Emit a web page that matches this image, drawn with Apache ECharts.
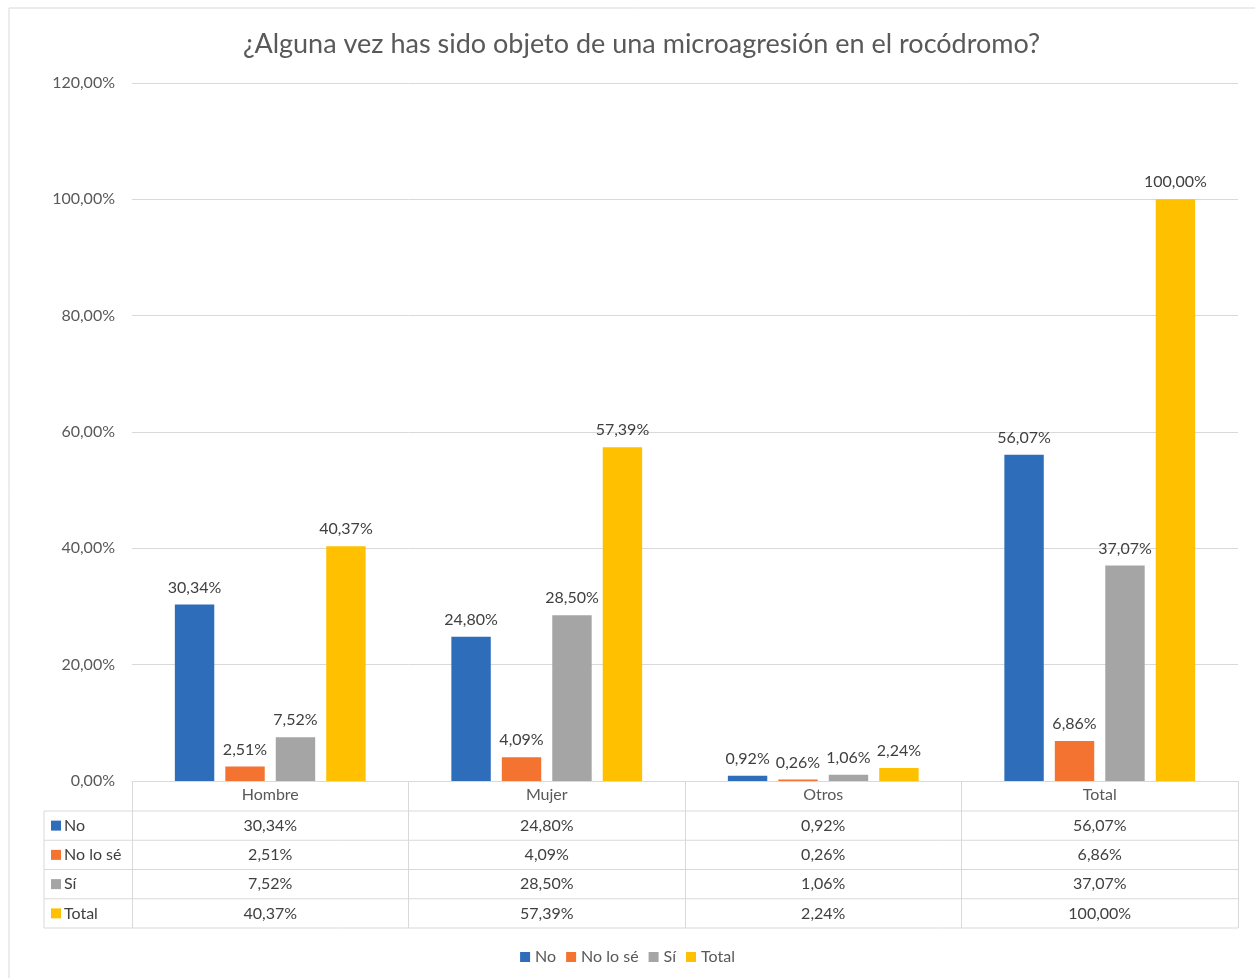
<!DOCTYPE html>
<html>
<head>
<meta charset="utf-8">
<script src="https://cdn.jsdelivr.net/npm/echarts@6/dist/echarts.min.js"></script>
<style>
  html, body { margin: 0; padding: 0; background: #fff; }
  #chart { width: 1255px; height: 978px; }
</style>
</head>
<body>
<div id="chart"></div>
<script>
// datos
var categories = ['Hombre', 'Mujer', 'Otros', 'Total'];
var seriesNames = ['No', 'No lo sé', 'Sí', 'Total'];
var no = [30.34, 24.80, 0.92, 56.07];
var noLoSe = [2.51, 4.09, 0.26, 6.86];
var si = [7.52, 28.50, 1.06, 37.07];
var total = [40.37, 57.39, 2.24, 100.00];
var yTicks = [0, 20, 40, 60, 80, 100, 120];

var colors = ['#2E6DBA', '#F47331', '#A5A5A5', '#FFC000'];
var values = [no, noLoSe, si, total];
var fontFam = 'Lato, "Open Sans", sans-serif';
var fs = 16;

function pct(v) {
    return v.toFixed(2).replace('.', ',') + '%';
}

var chart = echarts.init(document.getElementById('chart'));

// medidas de la rejilla y de la tabla
var gridLeft = 132, gridRight = 1238, gridTop = 83, gridBottom = 781;
var rowH = 29.25, headH = 30, tableLeft = 44;

var series = [];
for (var i = 0; i < seriesNames.length; i++) {
    series.push({
        name: seriesNames[i],
        type: 'bar',
        data: values[i],
        itemStyle: { color: colors[i] },
        barGap: '28%',
        barCategoryGap: '31%',
        label: {
            show: true,
            position: 'top',
            distance: 9,
            color: '#404040',
            fontSize: fs,
            fontFamily: fontFam,
            formatter: function (p) { return pct(p.value); }
        }
    });
}

// tabla de datos bajo el eje
var graphics = [];
var lineColor = '#D9D9D9';
graphics.push({
    type: 'rect',
    shape: { x: 9, y: 8, width: 1260, height: 990 },
    style: { fill: 'none', stroke: lineColor, lineWidth: 1 },
    silent: true
});
var tableBottom = gridBottom + headH + rowH * seriesNames.length;
for (var r = 0; r <= seriesNames.length; r++) {
    var y = gridBottom + headH + r * rowH;
    graphics.push({
        type: 'line',
        shape: { x1: tableLeft, y1: y, x2: gridRight, y2: y },
        style: { stroke: lineColor, lineWidth: 1 },
        silent: true
    });
}
graphics.push({
    type: 'line',
    shape: { x1: tableLeft, y1: gridBottom + headH, x2: tableLeft, y2: tableBottom },
    style: { stroke: lineColor, lineWidth: 1 },
    silent: true
});
var colW = (gridRight - gridLeft) / categories.length;
for (var s = 0; s < seriesNames.length; s++) {
    var cy = gridBottom + headH + s * rowH + rowH / 2;
    graphics.push({
        type: 'rect',
        shape: { x: 51, y: cy - 5, width: 10, height: 10 },
        style: { fill: colors[s] },
        silent: true
    });
    graphics.push({
        type: 'text',
        x: 64, y: cy,
        style: {
            text: seriesNames[s], fill: '#404040', fontSize: fs,
            fontFamily: fontFam, verticalAlign: 'middle', align: 'left'
        },
        silent: true
    });
    for (var c = 0; c < categories.length; c++) {
        graphics.push({
            type: 'text',
            x: gridLeft + colW * (c + 0.5), y: cy,
            style: {
                text: pct(values[s][c]), fill: '#404040', fontSize: fs,
                fontFamily: fontFam, verticalAlign: 'middle', align: 'center'
            },
            silent: true
        });
    }
}

var option = {
    backgroundColor: '#fff',
    title: {
        text: '¿Alguna vez has sido objeto de una microagresión en el rocódromo?',
        left: 238,
        top: 26,
        textStyle: { color: '#595959', fontSize: 27, fontWeight: 'normal', fontFamily: fontFam }
    },
    legend: {
        data: seriesNames,
        bottom: 8,
        left: 'center',
        icon: 'rect',
        itemWidth: 10,
        itemHeight: 10,
        itemGap: 10,
        textStyle: { color: '#595959', fontSize: fs, fontFamily: fontFam }
    },
    grid: {
        left: gridLeft,
        right: 1255 - gridRight,
        top: gridTop,
        bottom: 978 - gridBottom,
        containLabel: false,
        outerBoundsMode: 'none'
    },
    xAxis: {
        type: 'category',
        data: categories,
        axisLine: { lineStyle: { color: lineColor } },
        axisTick: { show: true, length: tableBottom - gridBottom, lineStyle: { color: lineColor } },
        axisLabel: { color: '#595959', fontSize: fs, fontFamily: fontFam, margin: 6 }
    },
    yAxis: {
        type: 'value',
        min: yTicks[0],
        max: yTicks[yTicks.length - 1],
        interval: 20,
        axisLine: { show: false },
        axisTick: { show: false },
        splitLine: { lineStyle: { color: lineColor } },
        axisLabel: {
            color: '#595959', fontSize: fs, fontFamily: fontFam, margin: 17,
            formatter: function (v) { return pct(v); }
        }
    },
    series: series,
    graphic: graphics
};

chart.setOption(option);
</script>
</body>
</html>
